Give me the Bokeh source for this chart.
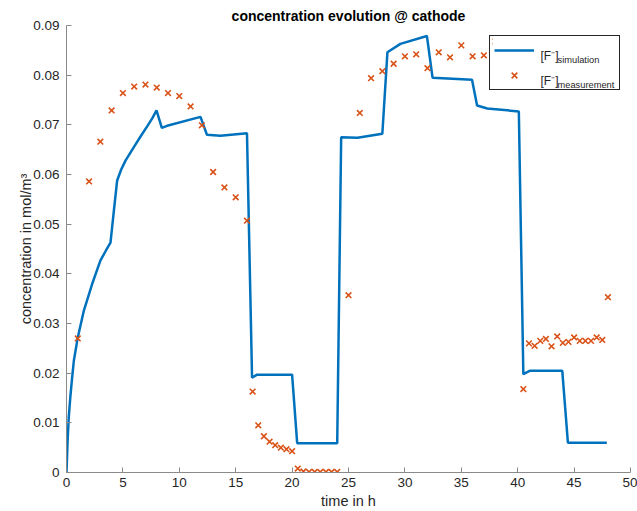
from bokeh.plotting import figure
from bokeh.models import (Range1d, FixedTicker, NumeralTickFormatter, Legend,
                          LegendItem, Label, ColumnDataSource, BoxAnnotation)
from bokeh.core.properties import value
from bokeh.embed import file_html
from bokeh.resources import INLINE

# ---------------- data ----------------
sim_t = [0, 0.1, 0.2, 0.35, 0.5, 0.65, 1.0, 1.54, 2.28, 3.01, 3.5, 3.9,
         4.2, 4.49, 4.85, 5.23, 5.97, 6.55, 7.15, 7.6, 7.98, 8.45, 8.92, 11.88, 12.45,
         13.65, 16.0, 16.45, 16.9, 20.0, 20.45, 24.0, 24.35, 25.8, 28.0, 28.45, 29.6,
         31.95, 32.45, 35.95, 36.4, 37.3, 40.1, 40.5, 41.1, 43.95, 44.45, 47.9]
sim_c = [0, 0.0065, 0.0111, 0.0155, 0.0191, 0.0225, 0.0272, 0.0326, 0.0380,
         0.0427, 0.0447, 0.0463, 0.0527, 0.0588, 0.0610, 0.0628, 0.0655, 0.0676,
         0.0697, 0.0713, 0.0729, 0.0694, 0.0698, 0.0716, 0.0680, 0.0678,
         0.0683, 0.0191, 0.0197, 0.0197, 0.0059, 0.0059, 0.0675, 0.0674, 0.0682,
         0.0846, 0.0863, 0.0879, 0.0795, 0.0791, 0.0739, 0.0733, 0.0727, 0.0198,
         0.0205, 0.0205, 0.0060, 0.0060]

meas_t = [1, 2, 3, 4, 5, 6, 7, 8, 9, 10, 11, 12, 13, 14, 15, 16,
          16.5, 17, 17.5, 18, 18.5, 19, 19.5, 20,
          20.5, 21, 21.5, 22, 22.5, 23, 23.5, 24,
          25, 26, 27, 28, 29, 30, 31, 32, 33, 34, 35, 36, 37, 38, 39, 40,
          40.5, 41, 41.5, 42, 42.5, 43, 43.5, 44, 44.5, 45, 45.5, 46, 46.5, 47, 47.5,
          48]
meas_c = [0.0270, 0.0586, 0.0666, 0.0729, 0.0764, 0.0777, 0.0781, 0.0775, 0.0764,
          0.0758, 0.0737, 0.0699, 0.0605, 0.0574, 0.0554, 0.0507,
          0.0163, 0.0095, 0.0073, 0.0062, 0.0055, 0.0050, 0.0047, 0.0043,
          0.0008, 0.0002, 0.0001, 0.0001, 0.0001, 0.0001, 0.0001, 0.0001,
          0.0357, 0.0724, 0.0794, 0.0808, 0.0823, 0.0838, 0.0842, 0.0814, 0.0846,
          0.0836, 0.0860, 0.0838, 0.0840, 0.0868, 0.0872, 0.0872,
          0.0168, 0.0260, 0.0255, 0.0265, 0.0269, 0.0254, 0.0274, 0.0261, 0.0263,
          0.0272, 0.0265, 0.0265, 0.0265, 0.0272, 0.0267,
          0.0353]

x_ticks = [0, 5, 10, 15, 20, 25, 30, 35, 40, 45, 50]
y_ticks = [0, 0.01, 0.02, 0.03, 0.04, 0.05, 0.06, 0.07, 0.08, 0.09]

title_text = "concentration evolution @ cathode"
x_label = "time in h"
y_label = "concentration in mol/m³"
legend_main = ["[F⁻]", "[F⁻]"]
legend_sub = ["simulation", "measurement"]

# ---------------- figure ----------------
FONT = "Liberation Sans"
BLUE = "#0072BD"
ORANGE = "#D95319"
TXT = "#262626"

p = figure(width=637, height=511, output_backend="svg", toolbar_location=None,
           x_range=Range1d(0, 50), y_range=Range1d(0, 0.09),
           min_border_left=66, min_border_right=7, min_border_top=25,
           min_border_bottom=39, title=title_text)
p.outline_line_color = None
p.grid.visible = False
p.background_fill_color = "white"
p.border_fill_color = "white"

p.title.align = "center"
p.title.text_font = FONT
p.title.text_font_size = "14px"
p.title.text_font_style = "bold"
p.title.text_color = "black"
p.title.standoff = 3

for ax in (p.xaxis[0], p.yaxis[0]):
    ax.axis_line_color = "#8a8a8a"
    ax.major_tick_line_color = "#8a8a8a"
    ax.major_tick_in = 5
    ax.major_tick_out = 0
    ax.minor_tick_line_color = None
    ax.major_label_text_font = FONT
    ax.major_label_text_font_size = "13.5px"
    ax.major_label_text_color = TXT
    ax.axis_label_text_font = FONT
    ax.axis_label_text_font_size = "14.5px"
    ax.axis_label_text_font_style = "normal"
    ax.axis_label_text_color = TXT

p.xaxis.ticker = FixedTicker(ticks=x_ticks)
p.yaxis.ticker = FixedTicker(ticks=y_ticks)
p.yaxis.formatter = NumeralTickFormatter(format="0.[00]")
p.xaxis.axis_label = x_label
p.yaxis.axis_label = y_label
p.xaxis.major_label_standoff = 5
p.yaxis.major_label_standoff = 7
p.xaxis.axis_label_standoff = 3
p.yaxis.axis_label_standoff = -4

sim = ColumnDataSource(dict(t=sim_t, c=sim_c))
meas = ColumnDataSource(dict(t=meas_t, c=meas_c))

r_line = p.line("t", "c", source=sim, line_width=2.5, line_color=BLUE)
r_sc = p.scatter("t", "c", source=meas, marker="x", size=8, line_width=1.6,
                 line_color=ORANGE)


def px_to_data(px, py):
    return (px - 66) / 564 * 50, (472 - py) / 447 * 0.09


# opaque white background of the legend, drawn above the data
bl, bt = px_to_data(492, 35)
br, bb = px_to_data(620, 87)
p.add_layout(BoxAnnotation(left=bl, right=br, top=bt, bottom=bb,
                           fill_color="white", fill_alpha=1.0,
                           line_color=None, level="annotation"))

legend = Legend(items=[LegendItem(label=value(" "), renderers=[r_line]),
                       LegendItem(label=value(" "), renderers=[r_sc])],
                location="top_right", margin=10, padding=4, spacing=5,
                glyph_width=40, glyph_height=20, label_height=20, label_width=76,
                label_standoff=5, label_text_font_size="8px",
                border_line_color="#262626",
                border_line_width=1, border_line_alpha=1.0,
                background_fill_alpha=0.0)
p.add_layout(legend)

# legend texts with super/subscripts
for i, (main, sub) in enumerate(zip(legend_main, legend_sub)):
    mx, my = px_to_data(540, 55 + 25 * i)
    sx, sy = px_to_data(557, 59 + 25 * i)
    p.add_layout(Label(x=mx, y=my, text=main, text_font=FONT, text_font_size="12px",
                       text_color=TXT, text_baseline="alphabetic", level="overlay"))
    p.add_layout(Label(x=sx, y=sy, text=sub, text_font=FONT, text_font_size="9.3px",
                       text_color=TXT, text_baseline="alphabetic", level="overlay"))

open("out.html", "w").write(file_html(p, INLINE))
